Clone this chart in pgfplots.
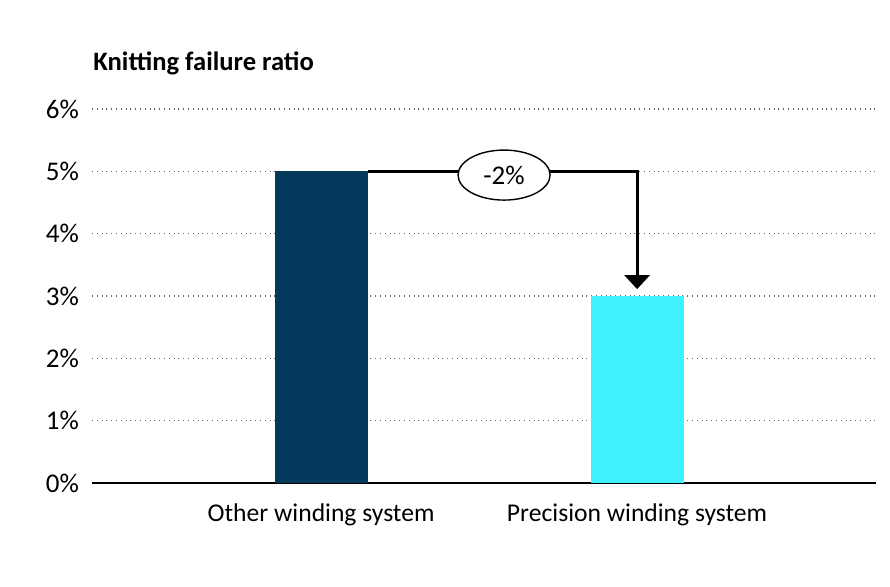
\documentclass[border=0pt]{standalone}
\usepackage{pgfplots}
\pgfplotsset{compat=1.18}
\usepackage{fontspec}
\setmainfont{Carlito}
\usetikzlibrary{arrows.meta,shapes.geometric}
\definecolor{darkbar}{HTML}{033A5C}
\definecolor{cyanbar}{HTML}{40F0FF}
\begin{document}
\begin{tikzpicture}
\useasboundingbox (0,0) rectangle (445pt,293pt);
\begin{axis}[
  at={(46pt,51.5pt)}, anchor=south west,
  scale only axis, width=392pt, height=187pt,
  xmin=-0.725, xmax=1.756, ymin=0, ymax=6,
  axis x line=bottom, axis y line=left,
  x axis line style={-, line width=0.8pt, black},
  y axis line style={draw=none},
  ytick={0,1,2,3,4,5,6},
  yticklabels={0\%,1\%,2\%,3\%,4\%,5\%,6\%},
  xtick={0,1},
  xticklabels={Other winding system, Precision winding system},
  major tick length=0pt,
  ymajorgrids,
  grid style={dotted, gray!80!black, line width=0.6pt},
  yticklabel style={xshift=-3pt, font=\fontsize{13.5}{15}\selectfont},
  xticklabel style={yshift=-7pt, font=\fontsize{12.8}{14}\selectfont},
  ybar, bar width=46.5pt,
  bar shift=0pt,
  clip=false,
]
\addplot[fill=darkbar, draw=none] coordinates {(0,5)};
\addplot[fill=cyanbar, draw=none] coordinates {(1,3)};
\draw[line width=1.5pt, -{Triangle[width=12.5pt,length=7pt]}] (axis cs:0.147,5) -| (axis cs:1,3.11);
\node[ellipse, draw, line width=0.7pt, fill=white, minimum width=46pt, minimum height=25pt, inner sep=0pt, font=\fontsize{13.5}{15}\selectfont] at (axis cs:0.579,4.94) {-2\%};
\end{axis}
\node[anchor=base west, font=\bfseries\fontsize{13.3}{15}\selectfont, inner sep=0pt] at (46.5pt,258pt) {Knitting failure ratio};
\end{tikzpicture}
\end{document}
